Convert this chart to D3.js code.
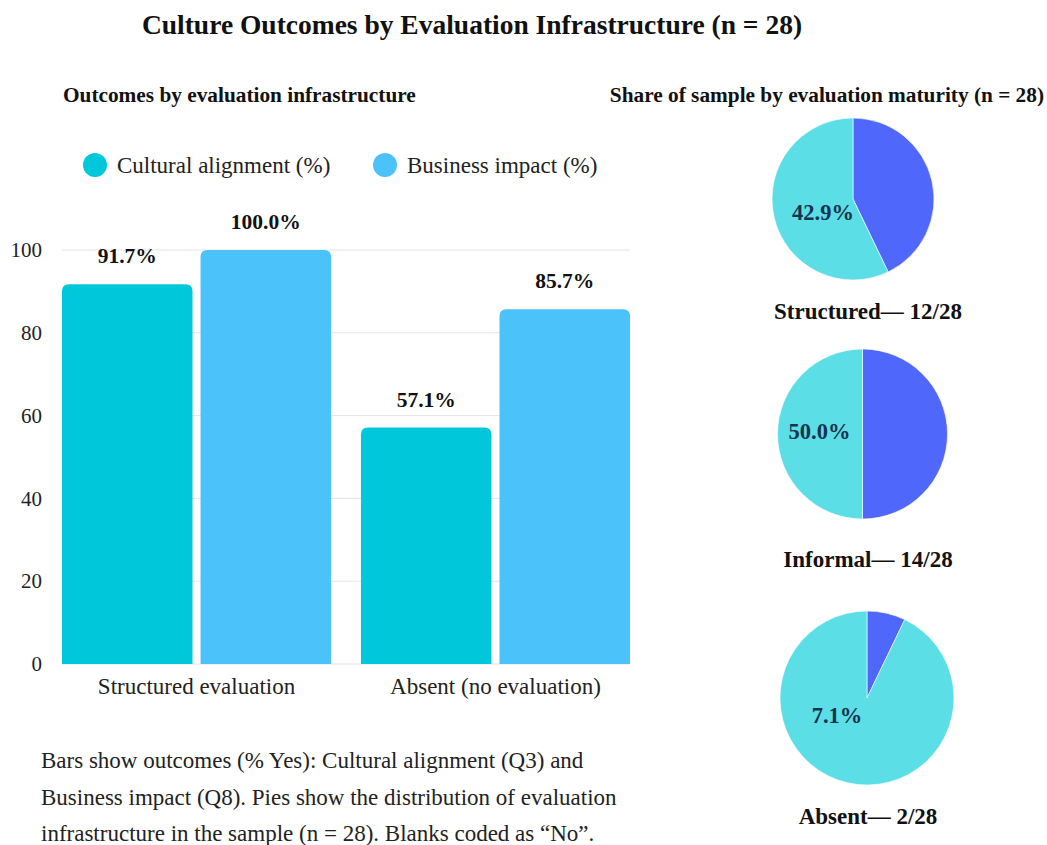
<!DOCTYPE html>
<html>
<head>
<meta charset="utf-8">
<script src="https://cdn.jsdelivr.net/npm/d3@7"></script>
<style>
  html, body { margin: 0; padding: 0; background: #ffffff; }
  svg { display: block; font-family: "Liberation Serif", "Times New Roman", serif; }
</style>
</head>
<body>
<svg id="chart" width="1047" height="845"></svg>
<script>
// Evaluation groups shown as bar clusters
const groups = ["Structured evaluation", "Absent (no evaluation)"];
// Outcome series (% Yes)
const seriesNames = ["Cultural alignment (%)", "Business impact (%)"];
const culturalAlignment = [91.7, 57.1];
const businessImpact = [100.0, 85.7];
const yTicks = [0, 20, 40, 60, 80, 100];

// Evaluation maturity shares of the sample (n = 28)
const maturityLevels = ["Structured", "Informal", "Absent"];
const maturityCounts = [12, 14, 2];
const sampleSize = 28;

const footnoteLines = [
  "Bars show outcomes (% Yes): Cultural alignment (Q3) and",
  "Business impact (Q8). Pies show the distribution of evaluation",
  "infrastructure in the sample (n = 28). Blanks coded as \u201cNo\u201d."
];

const barColors = ["#00C8DA", "#4BC2FA"];
const pieColors = { share: "#4F67FA", rest: "#5CDEE6" };

const svg = d3.select("#chart");

// Title and panel headings
svg.append("text")
  .attr("x", 472).attr("y", 34)
  .attr("text-anchor", "middle")
  .attr("font-size", 27.5).attr("font-weight", "bold").attr("fill", "#111")
  .text("Culture Outcomes by Evaluation Infrastructure (n = 28)");

svg.append("text")
  .attr("x", 63).attr("y", 102)
  .attr("font-size", 21.3).attr("font-weight", "bold").attr("fill", "#111")
  .text("Outcomes by evaluation infrastructure");

svg.append("text")
  .attr("x", 1044).attr("y", 102)
  .attr("text-anchor", "end")
  .attr("font-size", 21.3).attr("font-weight", "bold").attr("fill", "#111")
  .text("Share of sample by evaluation maturity (n = 28)");

// Legend
const legend = svg.append("g");
const legendX = [95, 385];
seriesNames.forEach((name, i) => {
  const g = legend.append("g").attr("transform", `translate(${legendX[i]},165)`);
  g.append("circle").attr("r", 12).attr("fill", barColors[i]);
  g.append("text").attr("x", 22).attr("y", 8)
    .attr("font-size", 23).attr("fill", "#222").text(name);
});

// Grouped bar chart
const plot = { left: 62, right: 630, top: 250, bottom: 664 };

const x0 = d3.scaleBand().domain(groups)
  .range([plot.left, plot.right]).paddingInner(0.1).paddingOuter(0);
const x1 = d3.scaleBand().domain(seriesNames)
  .range([0, x0.bandwidth()]).paddingInner(0.058).paddingOuter(0);
const y = d3.scaleLinear().domain([0, 100]).range([plot.bottom, plot.top]);

// Gridlines
svg.append("g").selectAll("line").data(yTicks).join("line")
  .attr("x1", plot.left).attr("x2", plot.right)
  .attr("y1", d => y(d)).attr("y2", d => y(d))
  .attr("stroke", "#e4e4e4").attr("stroke-width", 1);

// Y axis labels
const yAxis = svg.append("g")
  .attr("transform", `translate(${plot.left - 20},0)`)
  .call(d3.axisLeft(y).tickValues(yTicks).tickSize(0).tickPadding(0));
yAxis.select(".domain").remove();
yAxis.selectAll("text")
  .attr("font-family", "Liberation Serif, serif")
  .attr("font-size", 21).attr("fill", "#222");

// Path for a bar with rounded top corners
function topRoundedBar(x, yTop, w, yBase, r) {
  const rr = Math.min(r, w / 2, (yBase - yTop) / 2);
  return `M${x},${yBase}V${yTop + rr}Q${x},${yTop} ${x + rr},${yTop}` +
         `H${x + w - rr}Q${x + w},${yTop} ${x + w},${yTop + rr}V${yBase}Z`;
}

const barData = groups.map((g, i) => ({
  group: g,
  values: [
    { series: seriesNames[0], value: culturalAlignment[i], color: barColors[0] },
    { series: seriesNames[1], value: businessImpact[i], color: barColors[1] }
  ]
}));

const groupSel = svg.append("g").selectAll("g").data(barData).join("g")
  .attr("transform", d => `translate(${x0(d.group)},0)`);

groupSel.selectAll("path").data(d => d.values).join("path")
  .attr("d", d => topRoundedBar(x1(d.series), y(d.value), x1.bandwidth(), y(0), 7))
  .attr("fill", d => d.color);

groupSel.selectAll("text.val").data(d => d.values).join("text")
  .attr("class", "val")
  .attr("x", d => x1(d.series) + x1.bandwidth() / 2)
  .attr("y", d => y(d.value) - 21)
  .attr("text-anchor", "middle")
  .attr("font-size", 21.5).attr("font-weight", "bold").attr("fill", "#111")
  .text(d => d.value.toFixed(1) + "%");

// X axis labels
const xAxis = svg.append("g")
  .attr("transform", `translate(0,${plot.bottom + 12})`)
  .call(d3.axisBottom(x0).tickSize(0).tickPadding(0));
xAxis.select(".domain").remove();
xAxis.selectAll("text")
  .attr("font-family", "Liberation Serif, serif")
  .attr("font-size", 23).attr("fill", "#222")
  .attr("dy", "0.8em");

// Footnote
const foot = svg.append("text")
  .attr("x", 41).attr("y", 768)
  .attr("font-size", 23).attr("fill", "#222");
foot.selectAll("tspan").data(footnoteLines).join("tspan")
  .attr("x", 41).attr("dy", (d, i) => i === 0 ? 0 : 36.5)
  .text(d => d);

// Pies: share of each maturity level in the sample
const pieCenters = [[853, 199], [862.5, 434], [867, 698]];
const pieRadii = [81, 85, 87];
const labelOffsets = [[-30, 21], [-43, 5], [-30, 25]];
const captionY = [319, 567, 824];

const pie = d3.pie().sort(null).value(d => d.value);

maturityLevels.forEach((level, i) => {
  const count = maturityCounts[i];
  const share = count / sampleSize;
  const slices = pie([
    { key: "share", value: count },
    { key: "rest", value: sampleSize - count }
  ]);
  const arc = d3.arc().innerRadius(0).outerRadius(pieRadii[i]);
  const g = svg.append("g")
    .attr("transform", `translate(${pieCenters[i][0]},${pieCenters[i][1]})`);
  g.selectAll("path").data(slices).join("path")
    .attr("d", arc)
    .attr("fill", d => pieColors[d.data.key])
    .attr("stroke", "#ffffff").attr("stroke-width", 0.6);
  g.append("text")
    .attr("x", labelOffsets[i][0]).attr("y", labelOffsets[i][1])
    .attr("text-anchor", "middle")
    .attr("font-size", 22.5).attr("font-weight", "bold").attr("fill", "#17344f")
    .text((share * 100).toFixed(1) + "%");
  svg.append("text")
    .attr("x", 868).attr("y", captionY[i])
    .attr("text-anchor", "middle")
    .attr("font-size", 23).attr("font-weight", "bold").attr("fill", "#111")
    .text(`${level}\u2014 ${count}/${sampleSize}`);
});
</script>
</body>
</html>
